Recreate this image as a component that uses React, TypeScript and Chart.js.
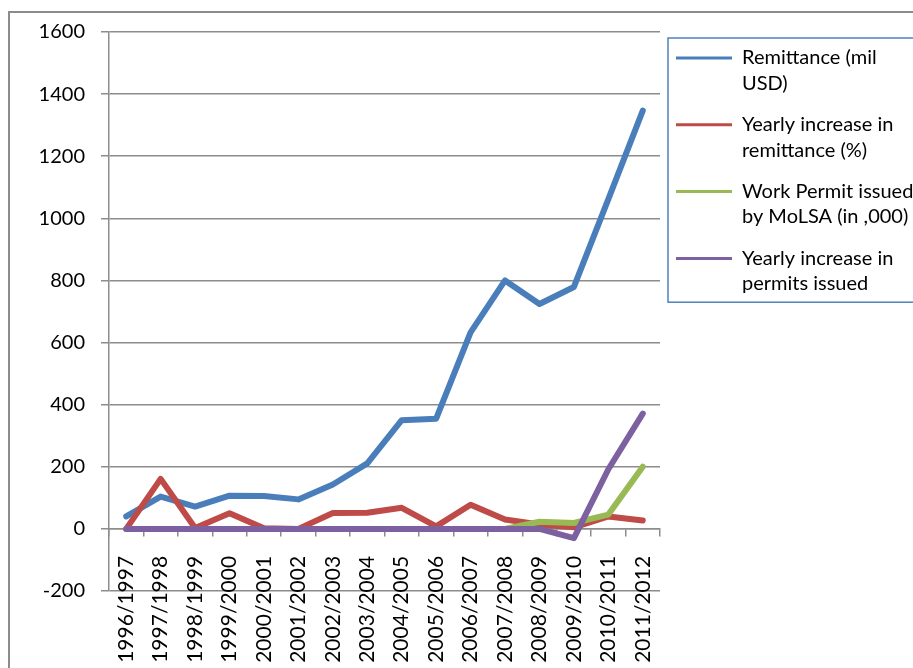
import { useEffect, useRef } from 'react';
import { Chart, registerables } from 'chart.js';

Chart.register(...registerables);

// Fiscal years on the category axis
const periods = [
  '1996/1997', '1997/1998', '1998/1999', '1999/2000', '2000/2001', '2001/2002',
  '2002/2003', '2003/2004', '2004/2005', '2005/2006', '2006/2007', '2007/2008',
  '2008/2009', '2009/2010', '2010/2011', '2011/2012',
];

// Remittance inflow, million USD
const remittance = [40, 104, 72, 107, 106, 95, 143, 211, 350, 355, 633, 800, 724, 779, 1062, 1347];
// Yearly increase in remittance, %
const remittanceGrowth = [0, 161, 3, 50, 2, 0, 51, 52, 68, 8, 78, 30, 14, 5, 40, 27];
// Work permits issued by MoLSA, thousands
const workPermits = [0, 0, 0, 0, 0, 0, 0, 0, 0, 0, 0, 0, 23, 19, 46, 200];
// Yearly increase in permits issued
const permitGrowth = [0, 0, 0, 0, 0, 0, 0, 0, 0, 0, 0, 0, 0, -30, 192, 371];

// Legend text, one entry per series, split into its display lines
const seriesNames = [
  ['Remittance (mil', 'USD)'],
  ['Yearly increase in', 'remittance (%)'],
  ['Work Permit issued', 'by MoLSA (in ,000)'],
  ['Yearly increase in', 'permits issued'],
];
const seriesColors = ['#4a7ebb', '#be4b48', '#98b954', '#7d60a0'];

// Value axis range
const yMin = -200;
const yMax = 1600;
const yStep = 200;

const FONT = { family: 'Lato', size: 20 };
const X_FONT = { family: 'Lato', size: 21 };
const GRID = '#8c8c8c';
const LINE_WIDTH = 6;

// Thin blue frame around the legend entries
const legendFrame = {
  id: 'legendFrame',
  afterDraw(chart: any) {
    const boxes = chart.legend?.legendHitBoxes;
    if (!boxes || !boxes.length) return;
    const first = boxes[0];
    const last = boxes[boxes.length - 1];
    const top = first.top - 10;
    const bottom = last.top + last.height + 3;
    const ctx = chart.ctx;
    ctx.save();
    ctx.strokeStyle = '#4f81bd';
    ctx.lineWidth = 1.5;
    ctx.strokeRect(first.left - 8, top, chart.width, bottom - top);
    ctx.restore();
  },
};

export default function App() {
  const canvasRef = useRef<HTMLCanvasElement>(null);

  useEffect(() => {
    const series = [remittance, remittanceGrowth, workPermits, permitGrowth];
    const chart = new Chart(canvasRef.current as HTMLCanvasElement, {
      type: 'line',
      data: {
        labels: periods,
        datasets: series.map((values, i) => ({
          label: seriesNames[i].join('\n'),
          data: values,
          borderColor: seriesColors[i],
          backgroundColor: seriesColors[i],
          borderWidth: LINE_WIDTH,
          borderJoinStyle: 'round' as const,
          borderCapStyle: 'round' as const,
          pointRadius: 0,
          pointHoverRadius: 0,
          tension: 0,
          fill: false,
          // later series are painted above earlier ones
          order: series.length - i,
        })),
      },
      options: {
        responsive: false,
        devicePixelRatio: 1,
        animation: false,
        events: [],
        elements: { line: { borderWidth: LINE_WIDTH } },
        layout: { padding: { top: 32, right: 0, bottom: 77, left: 0 } },
        plugins: {
          tooltip: { enabled: false },
          legend: {
            position: 'right',
            align: 'start',
            maxWidth: 253,
            labels: {
              boxWidth: 56,
              boxHeight: 3,
              padding: 16,
              color: '#000',
              font: { ...FONT, lineHeight: 1.27 },
              sort: (a: any, b: any) => a.datasetIndex - b.datasetIndex,
              generateLabels: (c: any) =>
                Chart.defaults.plugins.legend.labels.generateLabels(c).map((item: any) => ({
                  ...item,
                  text: String(item.text).split('\n'),
                  lineWidth: 0,
                  fillStyle: seriesColors[item.datasetIndex],
                })),
            },
          },
        },
        scales: {
          x: {
            type: 'category',
            position: { y: 0 } as any,
            offset: true,
            grid: {
              offset: true,
              drawOnChartArea: false,
              drawTicks: true,
              tickLength: 7,
              color: GRID,
              lineWidth: 1.5,
            },
            border: { display: true, color: GRID, width: 1.5 },
            ticks: {
              autoSkip: false,
              minRotation: 90,
              maxRotation: 90,
              padding: 20,
              color: '#000',
              font: X_FONT,
            },
            afterFit: (scale: any) => {
              scale.height = 0;
            },
          },
          y: {
            type: 'linear',
            min: yMin,
            max: yMax,
            ticks: {
              stepSize: yStep,
              padding: 16,
              color: '#000',
              font: FONT,
              callback: (value: any) => String(value),
            },
            grid: { color: GRID, lineWidth: 1.5, tickLength: 8, drawTicks: true },
            border: { display: true, color: GRID, width: 1.5 },
            afterFit: (scale: any) => {
              scale.width = 109;
            },
          },
        },
      },
      plugins: [legendFrame],
    });
    return () => chart.destroy();
  }, []);

  return (
    <div
      style={{
        position: 'fixed',
        left: 0,
        top: 0,
        width: 913,
        height: 668,
        overflow: 'hidden',
        background: '#fff',
      }}
    >
      <div
        style={{
          position: 'absolute',
          left: 8,
          top: 11,
          width: 1000,
          height: 1000,
          border: '2px solid #8c8c8c',
        }}
      />
      <canvas
        ref={canvasRef}
        width={913}
        height={668}
        style={{ position: 'absolute', left: 0, top: 0, width: 913, height: 668 }}
      />
    </div>
  );
}
